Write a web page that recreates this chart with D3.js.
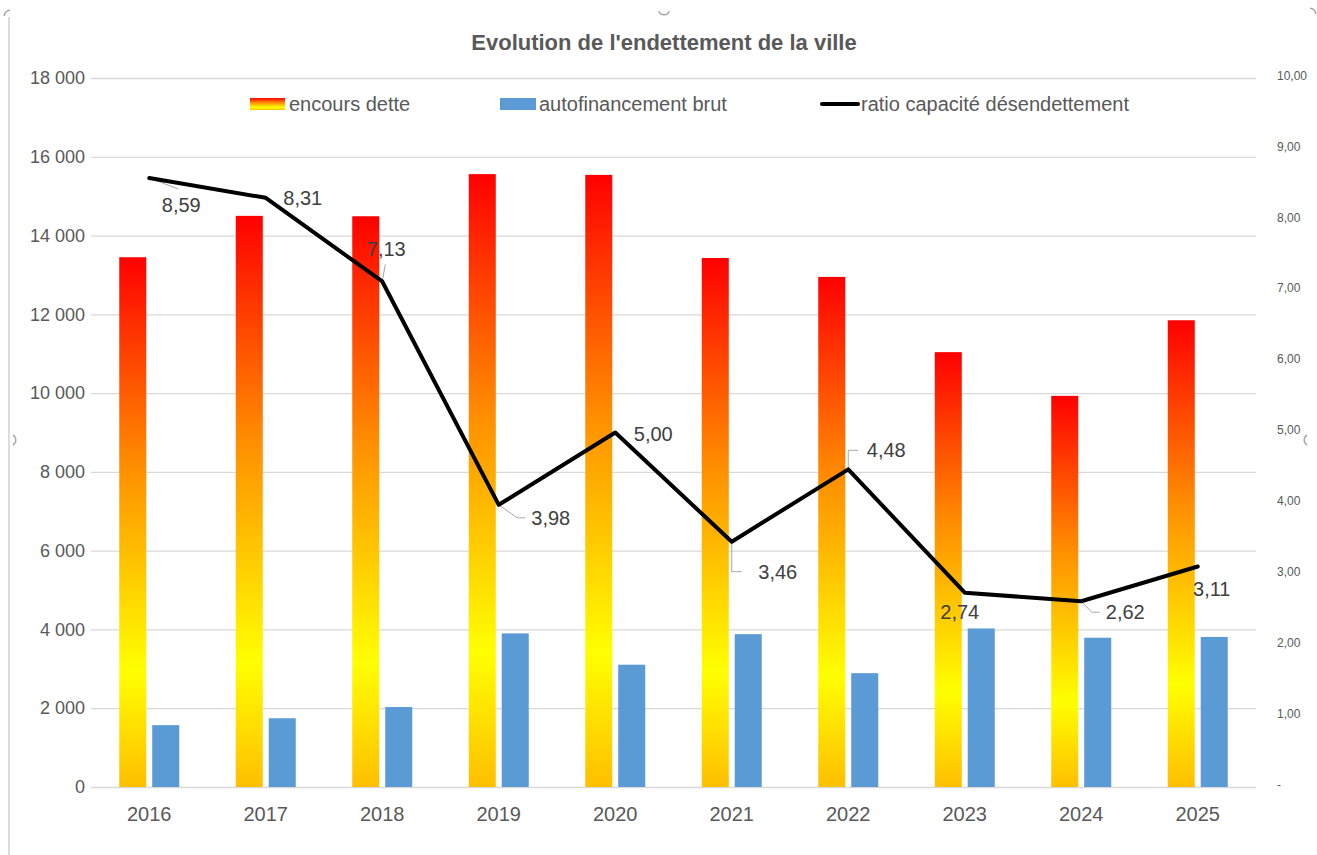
<!DOCTYPE html>
<html>
<head>
<meta charset="utf-8">
<script src="https://cdn.jsdelivr.net/npm/d3@7"></script>
<style>
  body { margin: 0; background: #fff; }
  text { font-family: "Liberation Sans", Arial, sans-serif; fill: #595959; }
</style>
</head>
<body>
<div id="chart"></div>
<script>
// data
const years = ['2016', '2017', '2018', '2019', '2020', '2021', '2022', '2023', '2024', '2025']
const encours = [13450, 14500, 14490, 15560, 15540, 13430, 12950, 11040, 9930, 11850]
const autofin = [1570, 1745, 2030, 3900, 3105, 3880, 2890, 4025, 3790, 3810]
const ratio = [8.59, 8.31, 7.13, 3.98, 5.00, 3.46, 4.48, 2.74, 2.62, 3.11]
const leftTicks = [0, 2000, 4000, 6000, 8000, 10000, 12000, 14000, 16000, 18000]
const rightTicks = [0, 1, 2, 3, 4, 5, 6, 7, 8, 9, 10]
const seriesNames = ['encours dette', 'autofinancement brut', 'ratio capacité désendettement']

// label placement relative to its point: dx, dy of text centre, leader kind
// leader: 0 none, 1 slanted + flat, 2 vertical + flat, 3 to top of text, 4 to bottom of text
const labelPos = [[32, 27, 3], [37, 0, 0], [4, -32, 4], [52, 13, 1], [38, 1, 0],
                  [46, 30, 2], [38, -19, 2], [-5, 19, 0], [44, 11, 1], [14, 22, 0]]

const W = 1317, H = 855
const mLeft = 91, mRight = 1256, mTop = 78, mBottom = 787

const svg = d3.select('#chart').append('svg')
    .attr('width', W)
    .attr('height', H)

const defs = svg.append('defs')
const grad = defs.append('linearGradient')
    .attr('id', 'fire')
    .attr('x1', 0).attr('y1', 0).attr('x2', 0).attr('y2', 1)
grad.append('stop').attr('offset', '0%').attr('stop-color', '#FF0000')
grad.append('stop').attr('offset', '40%').attr('stop-color', '#FF9000')
grad.append('stop').attr('offset', '78%').attr('stop-color', '#FFFF00')
grad.append('stop').attr('offset', '100%').attr('stop-color', '#FFBF00')

// chart frame remains (excel selection)
svg.append('line')
    .attr('x1', 9).attr('x2', 9).attr('y1', 17).attr('y2', H)
    .attr('stroke', '#D0D0D0').attr('stroke-width', 1.5)
const handles = [[10, 16, -90, 0], [664, 9, 110, 250], [10, 440, 30, 150], [1310, 440, 210, 330], [1310, 14, 0, 90]]
const arc = d3.arc().innerRadius(5).outerRadius(6.5)
svg.selectAll('.handle')
    .data(handles)
    .enter()
    .append('path')
    .attr('class', 'handle')
    .attr('transform', d => `translate(${d[0]},${d[1]})`)
    .attr('d', d => arc({startAngle: d[2] * Math.PI / 180, endAngle: d[3] * Math.PI / 180}))
    .attr('fill', '#A6A6A6')

// scales
const x = d3.scaleBand()
    .domain(years)
    .range([mLeft, mRight])
    .paddingInner(0.485)
    .paddingOuter(0.2425)

const xSub = d3.scaleBand()
    .domain(['encours', 'autofin'])
    .range([0, x.bandwidth()])
    .paddingInner(0.18)

const y = d3.scaleLinear()
    .domain([0, 18000])
    .range([mBottom, mTop])

const y2 = d3.scaleLinear()
    .domain([0, 10])
    .range([mBottom, mTop])

const loc = d3.formatLocale({decimal: ',', thousands: ' ', grouping: [3], currency: ['', '']})
const fmtL = loc.format(',.0f')
const fmtR = loc.format('.2f')

// left axis + gridlines
const yAxis = svg.append('g')
    .attr('transform', `translate(${mLeft},0)`)
    .call(d3.axisLeft(y).tickValues(leftTicks).tickSize(-(mRight - mLeft)).tickPadding(6).tickFormat(fmtL))
yAxis.select('.domain').remove()
yAxis.selectAll('line').attr('stroke', '#D9D9D9').attr('stroke-width', 1.3)
yAxis.selectAll('text').attr('font-size', 18).attr('fill', '#595959')
    .attr('font-family', '"Liberation Sans", sans-serif')

// right axis
const y2Axis = svg.append('g')
    .attr('transform', `translate(${mRight},0)`)
    .call(d3.axisRight(y2).tickValues(rightTicks).tickSize(0).tickPadding(21)
        .tickFormat(d => d === 0 ? '-' : fmtR(d)))
y2Axis.select('.domain').remove()
y2Axis.selectAll('text').attr('font-size', 12).attr('fill', '#595959')
    .attr('font-family', '"DejaVu Sans", sans-serif')
    .attr('dy', '0.1em')

// x axis labels
const xAxis = svg.append('g')
    .attr('transform', `translate(0,${mBottom})`)
    .call(d3.axisBottom(x).tickSize(0).tickPadding(20))
xAxis.select('.domain').remove()
xAxis.selectAll('text').attr('font-size', 20).attr('fill', '#595959')
    .attr('font-family', '"Liberation Sans", sans-serif')

// bars
svg.append('g')
    .selectAll('rect')
    .data(years)
    .enter()
    .append('rect')
    .attr('x', (d, i) => x(d) + xSub('encours'))
    .attr('y', (d, i) => y(encours[i]))
    .attr('width', xSub.bandwidth())
    .attr('height', (d, i) => y(0) - y(encours[i]))
    .attr('fill', 'url(#fire)')

svg.append('g')
    .selectAll('rect')
    .data(years)
    .enter()
    .append('rect')
    .attr('x', (d, i) => x(d) + xSub('autofin'))
    .attr('y', (d, i) => y(autofin[i]))
    .attr('width', xSub.bandwidth())
    .attr('height', (d, i) => y(0) - y(autofin[i]))
    .attr('fill', '#5B9BD5')

// ratio line
const cx = d => x(d) + x.bandwidth() / 2
const line = d3.line()
    .x((d, i) => cx(years[i]))
    .y(d => y2(d))

// leader lines of the data labels
const labelFont = 20
const textW = 39
svg.append('g')
    .selectAll('path')
    .data(ratio.map((d, i) => i).filter(i => labelPos[i][2]))
    .enter()
    .append('path')
    .attr('fill', 'none')
    .attr('stroke', '#A6A6A6')
    .attr('stroke-width', 1)
    .attr('d', k => {
        const px = cx(years[k]), py = y2(ratio[k])
        const tx = px + labelPos[k][0], ty = py + labelPos[k][1]
        const tl = tx - textW / 2
        const kind = labelPos[k][2]
        if (kind === 1) return `M${px},${py}L${tl - 14},${ty}L${tl - 6},${ty}`
        if (kind === 2) return `M${px},${py}L${px},${ty}L${px + 10},${ty}`
        if (kind === 3) return `M${px},${py}L${tx - 3},${ty - 16}`
        return `M${px},${py}L${px + 3},${ty + 15}`
    })

svg.append('path')
    .datum(ratio)
    .attr('fill', 'none')
    .attr('stroke', '#000')
    .attr('stroke-width', 4)
    .attr('stroke-linejoin', 'round')
    .attr('stroke-linecap', 'round')
    .attr('d', line)

// data labels
svg.append('g')
    .selectAll('text')
    .data(ratio)
    .enter()
    .append('text')
    .attr('x', (d, i) => cx(years[i]) + labelPos[i][0])
    .attr('y', (d, i) => y2(d) + labelPos[i][1])
    .attr('dy', '0.35em')
    .attr('text-anchor', 'middle')
    .attr('font-size', labelFont)
    .style('fill', '#404040')
    .text(d => fmtR(d))

// title
svg.append('text')
    .attr('x', 664)
    .attr('y', 42)
    .attr('dy', '0.35em')
    .attr('text-anchor', 'middle')
    .attr('font-size', 22)
    .attr('font-weight', 'bold')
    .text("Evolution de l'endettement de la ville")

// legend
const legX = [250, 500, 822]
const leg = svg.append('g')
leg.append('rect').attr('x', legX[0]).attr('y', 98).attr('width', 35).attr('height', 12).attr('fill', 'url(#fire)')
leg.append('rect').attr('x', legX[1]).attr('y', 98).attr('width', 36).attr('height', 12).attr('fill', '#5B9BD5')
leg.append('line').attr('x1', legX[2]).attr('x2', legX[2] + 36).attr('y1', 104).attr('y2', 104)
    .attr('stroke', '#000').attr('stroke-width', 4).attr('stroke-linecap', 'round')
leg.selectAll('text')
    .data(seriesNames)
    .enter()
    .append('text')
    .attr('x', (d, i) => legX[i] + 39)
    .attr('y', 104)
    .attr('dy', '0.35em')
    .attr('font-size', 20)
    .text(d => d)
</script>
</body>
</html>
